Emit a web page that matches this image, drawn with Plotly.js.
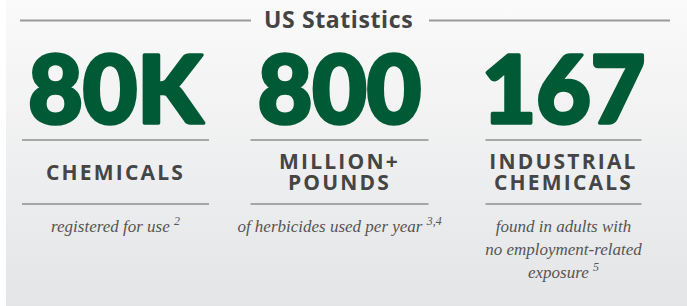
<!DOCTYPE html>
<html><head><meta charset="utf-8">
<script src="https://cdn.plot.ly/plotly-3.0.1.min.js"></script>
<style>
html,body{margin:0;padding:0;background:#fff;overflow:hidden;}
#panel{position:absolute;left:6px;top:0;width:681px;height:306px;background:linear-gradient(#fafafa,#e4e5e7);}
#chart{position:absolute;left:0;top:0;width:687px;height:306px;}
</style></head>
<body>
<div id="panel"></div>
<div id="chart"></div>
<script>
// ---- data ----
const headerText = "US Statistics";
const columns = [0, 1, 2];
const statValues = ["80K", "800", "167"];
const statLabels = ["CHEMICALS", "MILLION+<br>POUNDS", "INDUSTRIAL<br>CHEMICALS"];
const statNotes = [
  "registered for use <sup>2</sup>",
  "of herbicides used per year <sup>3,4</sup>",
  "found in adults with<br>no employment-related<br>exposure <sup>5</sup>"
];

// ---- layout constants (pixels) ----
const W = 687, H = 306;
const colPitch = 224, firstCenter = 115.5;
const x0 = -firstCenter / colPitch, x1 = x0 + W / colPitch;
const green = "#005a36", gray = "#454545", noteGray = "#555555";
const yValue = 99, yLabelMid = 174.5, labelPitch = 21, yNoteTop = 228, notePitch = 23;
const lineHalf = [93.5, 89, 78];
const yRule1 = 140, yRule2 = 204;

function splitLines(arr, yFn) {
  const xs = [], ys = [], ts = [];
  arr.forEach((s, i) => {
    const parts = s.split("<br>");
    parts.forEach((p, j) => { xs.push(columns[i]); ys.push(yFn(j, parts.length)); ts.push(p); });
  });
  return {x: xs, y: ys, text: ts};
}

const labelPts = splitLines(statLabels, (j, n) => yLabelMid + (j - (n - 1) / 2) * labelPitch);
const notePts = splitLines(statNotes, (j, n) => yNoteTop + j * notePitch);

const traces = [
  {x: columns, y: columns.map(() => yValue), text: statValues, mode: "text", type: "scatter",
   textposition: "middle center", hoverinfo: "skip",
   textfont: {family: "Lato, Inter, 'DejaVu Sans'", size: 94, color: green, weight: 900}},
  {x: labelPts.x, y: labelPts.y, text: labelPts.text, mode: "text", type: "scatter",
   textposition: "middle center", hoverinfo: "skip",
   textfont: {family: "'Open Sans', 'Noto Sans', sans-serif", size: 21, color: gray, weight: 700}},
  {x: notePts.x, y: notePts.y, text: notePts.text, mode: "text", type: "scatter",
   textposition: "middle center", hoverinfo: "skip",
   textfont: {family: "'Liberation Serif', 'DejaVu Serif', serif", size: 17, color: noteGray, style: "italic"}}
];

const shapes = [];
columns.forEach((c, i) => {
  [yRule1, yRule2].forEach(yy => {
    shapes.push({type: "line", xref: "x", yref: "y",
      x0: c - lineHalf[i] / colPitch, x1: c + lineHalf[i] / colPitch, y0: yy, y1: yy,
      line: {color: "#8f8f8f", width: 1.5}});
  });
});
// header rules
shapes.push({type: "line", xref: "paper", yref: "y", x0: 20 / W, x1: 251 / W, y0: 20.5, y1: 20.5, line: {color: "#9a9a9a", width: 2}});
shapes.push({type: "line", xref: "paper", yref: "y", x0: 429 / W, x1: 670 / W, y0: 20.5, y1: 20.5, line: {color: "#9a9a9a", width: 2}});

const layout = {
  width: W, height: H,
  margin: {l: 0, r: 0, t: 0, b: 0, pad: 0},
  paper_bgcolor: "rgba(0,0,0,0)", plot_bgcolor: "rgba(0,0,0,0)",
  showlegend: false,
  xaxis: {range: [x0, x1], visible: false, fixedrange: true},
  yaxis: {range: [H, 0], visible: false, fixedrange: true},
  shapes: shapes,
  annotations: [{text: headerText, xref: "paper", yref: "y", x: 338 / W, y: 19, showarrow: false,
    xanchor: "center", yanchor: "middle",
    font: {family: "'Open Sans', 'Noto Sans', sans-serif", size: 23, color: "#444444", weight: 700}}]
};

Plotly.newPlot("chart", traces, layout, {staticPlot: true, displayModeBar: false}).then(gd => {
  const tr = gd.querySelectorAll(".scatterlayer .trace");
  if (tr[0]) tr[0].querySelectorAll("text").forEach(t => {
    t.style.stroke = green; t.style.strokeWidth = "3.5px"; t.style.strokeLinejoin = "round";
  });
  if (tr[1]) tr[1].querySelectorAll("text").forEach(t => t.style.letterSpacing = "2.2px");
  const ann = gd.querySelectorAll(".annotation-text");
  ann.forEach(t => t.style.letterSpacing = "0.6px");
});
</script>
</body></html>
